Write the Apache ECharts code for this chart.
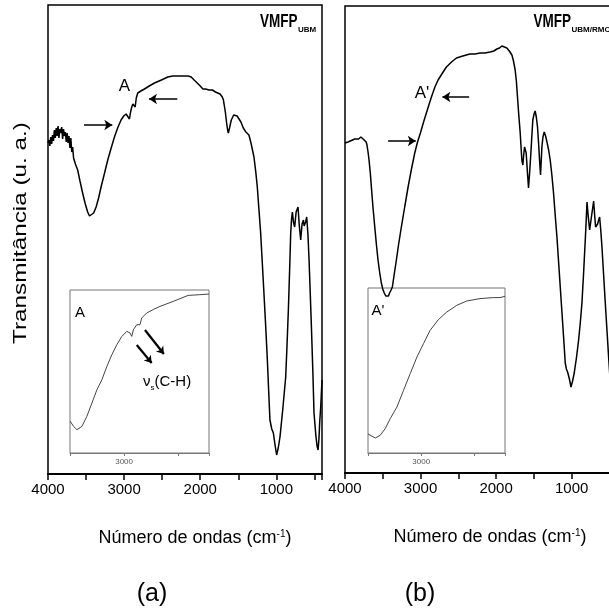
<!DOCTYPE html>
<html><head><meta charset="utf-8">
<script src="https://cdn.jsdelivr.net/npm/echarts@6/dist/echarts.min.js"></script>
<style>html,body{margin:0;padding:0;background:#fff}#c{width:609px;height:614px}</style>
</head><body><div id="c"></div>
<script>
// ---- Panel (a): VMFP_UBM spectrum (wavenumber cm-1, transmittance u.a.)
const wnA = [4000,3988,3976,3964,3952,3940,3928,3916,3904,3892,
  3880,3868,3856,3844,3832,3820,3808,3796,3784,3772,
  3760,3748,3736,3724,3712,3700,3688,3676,3664,3654,
  3640,3625,3610,3580,3545,3510,3479,3455,3434,3400,
  3368,3335,3303,3260,3215,3170,3127,3085,3040,3005,
  2974,2950,2930,2915,2900,2885,2874,2862,2855,2840,
  2821,2780,2733,2670,2601,2510,2426,2360,2300,2250,
  2206,2160,2118,2080,2039,2000,1965,1930,1886,1840,
  1800,1776,1740,1710,1695,1689,1670,1653,1640,1631,
  1615,1592,1560,1535,1515,1492,1465,1434,1400,1360,
  1330,1294,1270,1250,1230,1206,1185,1163,1140,1118,
  1100,1084,1060,1039,1015,996,975,952,915,877,
  860,842,825,811,800,789,775,759,740,715,
  700,680,662,644,635,627,615,601,585,570,
  555,539,520,505,480,465,452,440,430,417,
  400];
const tA = [331,334,328,337,330,339,333,344,336,346,
  338,348,336,345,341,347,335,345,338,342,
  332,341,331,338,326,336,322,327,316,317,
  310,308,304,293,281,270,262,258,257,261,
  267,276,287,300,314,326,337,346,354,358,
  360,361,355,362,367,370,371,368,367,376,
  381,383,385,388,391,394,397,398,398,398,
  398,398,397,394,391,388,385,385,384,384,
  382,381,380,377,374,371,362,351,344,341,
  346,354,359,361,358,357,352,346,342,339,
  330,317,302,287,266,241,212,181,148,114,
  82,54,45,41,28,19,26,37,65,97,
  128,164,205,241,255,262,252,247,262,267,
  250,234,250,254,248,246,252,257,240,214,
  182,147,102,61,38,28,24,35,52,67,
  94];

// ---- Panel (b): VMFP_UBM/RMO spectrum
const wnB = [4000,3960,3930,3900,3870,3850,3820,3790,3760,3739,
  3720,3709,3695,3682,3665,3651,3630,3606,3585,3563,
  3540,3519,3500,3480,3460,3440,3425,3410,3390,3373,
  3350,3320,3290,3254,3210,3165,3120,3077,3040,3002,
  2960,2923,2890,2856,2810,2768,2710,2658,2590,2525,
  2440,2348,2280,2211,2150,2079,2030,1990,1955,1924,
  1890,1858,1825,1791,1770,1748,1732,1717,1700,1681,
  1670,1659,1646,1635,1624,1613,1602,1585,1571,1555,
  1540,1527,1514,1498,1483,1468,1452,1438,1425,1412,
  1403,1394,1380,1363,1345,1327,1305,1284,1262,1240,
  1218,1195,1173,1151,1129,1107,1085,1070,1054,1030,
  1009,988,966,937,908,886,864,842,820,808,
  797,780,762,735,709,696,683,670,656,643,
  630,615,599,577,555,533,511,490,470,455,
  440,420,400];
const tB = [330,331,332,333,334,335,334,336,334,334,
  331,328,321,313,300,286,266,246,229,213,
  200,190,184,180,177,176,177,180,183,186,
  198,213,229,246,266,286,304,320,331,340,
  351,360,368,376,386,393,400,406,411,415,
  417,419,419,420,420,421,422,424,425,427,
  426,425,422,418,412,403,392,376,358,340,
  326,313,308,318,326,324,320,300,285,302,
  320,337,353,359,362,356,346,330,313,298,
  312,326,336,341,337,331,323,313,298,280,
  258,236,211,186,161,136,110,104,101,94,
  86,92,100,115,133,150,170,200,233,252,
  271,256,243,258,272,258,246,248,249,253,
  256,243,226,198,170,143,116,92,73,65,
  63,80,103];

// ---- Inset A (zoom 3500-2215 cm-1 of panel a)
const wnIA = [3500,3467,3436,3390,3344,3297,3251,3205,3159,3113,3067,3021,2975,2945,2929,2914,2883,2865,2853,2837,2791,2730,2668,2546,2408,2300,2215];
const tIA  = [32,26.6,23.3,26.6,36.6,50,63.3,73.3,86.6,98.3,108.3,116.6,121.6,120,116.6,123.3,128.3,130,128.3,135,140,143.5,146.6,151.6,157.6,158.3,159];

// ---- Inset A' (zoom of panel b)
const wnIB = [3500,3485,3431,3385,3338,3291,3228,3166,3103,3040,2978,2916,2838,2759,2665,2572,2447,2322,2259,2212];
const tIB  = [19,17.7,15,17.7,24.4,34.4,46,62.7,79.4,96,109.4,122.7,133.4,141,147.7,152,154.4,155.4,155.4,156.7];

// ---- annotation arrows (data coordinates: [-wavenumber, transmittance])
const arrowsA  = [[[-3527,349],[-3155,349]], [[-2301,375],[-2673,375]]];
const arrowsB  = [[[-3430,332],[-3063,332]], [[-2357,376],[-2711,376]]];
const arrowsIA = [[[-2883,108],[-2745,90]], [[-2807,123],[-2632,99]]];

const FONT = 'Liberation Sans, Arial, sans-serif';
const toXY = (wn, t) => wn.map((w, i) => [-w, t[i]]);
const fmtMain = v => (Math.abs(v) % 1000 === 0 ? String(Math.abs(v)) : '');
const fmtInset = v => (Math.abs(v) === 3000 ? '3000' : '');

function arrows(pairs, width, size) {
  return {silent: true, symbol: ['none', 'arrow'], symbolSize: size, precision: 5,
    lineStyle: {color: '#000', width: width, type: 'solid'}, label: {show: false},
    emphasis: {disabled: true}, animation: false,
    data: pairs.map(p => [{coord: p[0]}, {coord: p[1]}])};
}

function mainX(gridIndex, namePad) {
  return {gridIndex, type: 'value', min: -4000, max: -400, interval: 500,
    axisLine: {show: true, onZero: false, lineStyle: {color: '#000', width: 2}},
    axisTick: {show: true, length: 6, lineStyle: {color: '#000', width: 1.5}},
    axisLabel: {formatter: fmtMain, fontSize: 15, color: '#000', margin: 8, fontFamily: FONT},
    splitLine: {show: false},
    name: 'Número de ondas (cm{sup|-1})', nameLocation: 'middle', nameGap: 55,
    nameTextStyle: {fontSize: 18, color: '#000', fontFamily: FONT, padding: [0, 0, 0, namePad],
      rich: {sup: {fontSize: 10, verticalAlign: 'top', color: '#000', fontFamily: FONT}}}};
}
function insetX(gridIndex, maxv) {
  return {gridIndex, type: 'value', min: -3500, max: maxv, interval: 500,
    axisLine: {show: true, onZero: false, lineStyle: {color: '#777', width: 1}},
    axisTick: {show: true, length: 3, lineStyle: {color: '#777', width: 1}},
    axisLabel: {formatter: fmtInset, fontSize: 8, color: '#555', margin: 5, fontFamily: FONT},
    splitLine: {show: false}};
}
function hiddenY(gridIndex, maxv) {
  return {gridIndex, type: 'value', min: 0, max: maxv,
    axisLine: {show: false}, axisTick: {show: false}, axisLabel: {show: false},
    splitLine: {show: false}};
}

const chart = echarts.init(document.getElementById('c'), null, {renderer: 'canvas'});
chart.setOption({
  animation: false,
  backgroundColor: '#fff',
  grid: [
    {left: 48, top: 5, width: 274, height: 469, show: true, borderColor: '#000', borderWidth: 1.5, outerBoundsMode: 'none', containLabel: false},
    {left: 345, top: 6, width: 272, height: 467, show: true, borderColor: '#000', borderWidth: 1.5, outerBoundsMode: 'none', containLabel: false},
    {left: 70, top: 290, width: 139, height: 163, show: true, borderColor: '#777', borderWidth: 1, outerBoundsMode: 'none', containLabel: false},
    {left: 368, top: 288, width: 137, height: 165, show: true, borderColor: '#777', borderWidth: 1, outerBoundsMode: 'none', containLabel: false}
  ],
  xAxis: [mainX(0, 20), mainX(1, 18), insetX(2, -2215), insetX(3, -2212)],
  yAxis: [hiddenY(0, 469), hiddenY(1, 467), hiddenY(2, 163), hiddenY(3, 165)],
  series: [
    {type: 'line', xAxisIndex: 0, yAxisIndex: 0, data: toXY(wnA, tA), showSymbol: false,
      lineStyle: {color: '#000', width: 1.5}, markLine: arrows(arrowsA, 1.5, 8)},
    {type: 'line', xAxisIndex: 1, yAxisIndex: 1, data: toXY(wnB, tB), showSymbol: false,
      lineStyle: {color: '#000', width: 1.5}, markLine: arrows(arrowsB, 1.5, 8)},
    {type: 'line', xAxisIndex: 2, yAxisIndex: 2, data: toXY(wnIA, tIA), showSymbol: false,
      lineStyle: {color: '#444', width: 1}, markLine: arrows(arrowsIA, 2.2, 7)},
    {type: 'line', xAxisIndex: 3, yAxisIndex: 3, data: toXY(wnIB, tIB), showSymbol: false,
      lineStyle: {color: '#444', width: 1}}
  ],
  graphic: [
    {type: 'text', x: 21, y: 233, rotation: Math.PI / 2, scaleX: 1.35,
      style: {text: 'Transmitância (u. a.)', font: '18px ' + FONT, fill: '#000', align: 'center', verticalAlign: 'middle'}},
    {type: 'text', x: 124.5, y: 86, style: {text: 'A', font: '17px ' + FONT, fill: '#000', align: 'center', verticalAlign: 'middle'}},
    {type: 'text', x: 422, y: 93, style: {text: "A'", font: '17px ' + FONT, fill: '#000', align: 'center', verticalAlign: 'middle'}},
    {type: 'text', x: 80, y: 313, style: {text: 'A', font: '15px ' + FONT, fill: '#000', align: 'center', verticalAlign: 'middle'}},
    {type: 'text', x: 378, y: 311, style: {text: "A'", font: '15px ' + FONT, fill: '#000', align: 'center', verticalAlign: 'middle'}},
    {type: 'text', x: 143, y: 382, style: {text: '{n|ν}{s|s}{n|(C-H)}', align: 'left', verticalAlign: 'middle',
      rich: {n: {fontSize: 15, fontFamily: FONT, fill: '#000', lineHeight: 19}, s: {fontSize: 8, fontFamily: FONT, fill: '#000', verticalAlign: 'bottom', lineHeight: 19}}}},
    {type: 'text', x: 260, y: 22, scaleX: 0.75, style: {text: 'VMFP', font: 'bold 18px ' + FONT, fill: '#000', align: 'left', verticalAlign: 'middle'}},
    {type: 'text', x: 298, y: 29.5, style: {text: 'UBM', font: 'bold 8px ' + FONT, fill: '#000', align: 'left', verticalAlign: 'middle'}},
    {type: 'text', x: 533.5, y: 22, scaleX: 0.75, style: {text: 'VMFP', font: 'bold 18px ' + FONT, fill: '#000', align: 'left', verticalAlign: 'middle'}},
    {type: 'text', x: 571.5, y: 29.5, style: {text: 'UBM/RMO', font: 'bold 8px ' + FONT, fill: '#000', align: 'left', verticalAlign: 'middle'}},
    {type: 'text', x: 152, y: 594, style: {text: '(a)', font: '25px ' + FONT, fill: '#000', align: 'center', verticalAlign: 'middle'}},
    {type: 'text', x: 420, y: 594, style: {text: '(b)', font: '25px ' + FONT, fill: '#000', align: 'center', verticalAlign: 'middle'}}
  ]
});
</script></body></html>
